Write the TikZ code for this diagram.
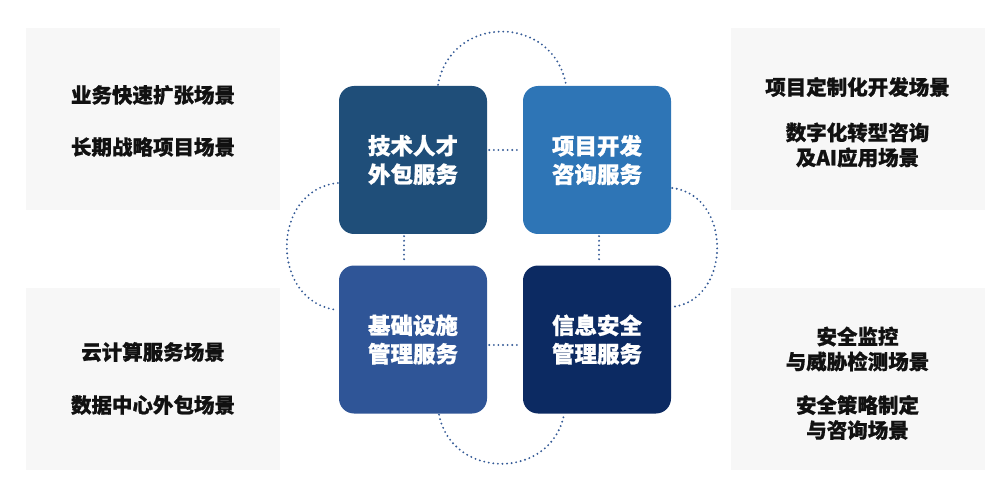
\documentclass[tikz,border=0pt]{standalone}
\usepackage{fontspec}
\setmainfont{Noto Sans CJK SC}[BoldFeatures={FakeBold=0.8}]
\usetikzlibrary{calc}
\definecolor{panelc}{HTML}{F7F7F7}
\definecolor{ctl}{HTML}{1F4E79}
\definecolor{ctr}{HTML}{2E75B6}
\definecolor{cbl}{HTML}{2F5597}
\definecolor{cbr}{HTML}{0C2A62}
\definecolor{dotc}{HTML}{345A96}
\definecolor{txtc}{HTML}{111111}
\begin{document}
\begin{tikzpicture}[x=1pt,y=-1pt,
  panel/.style={fill=panelc, draw=none, minimum width=254pt, minimum height=182pt, inner sep=0pt},
  ptext/.style={text=txtc, align=center, font=\bfseries\fontsize{20.5}{25}\selectfont, inner sep=0pt},
  sq/.style={draw=none, rounded corners=15pt, minimum width=148pt, minimum height=148pt, inner sep=0pt,
    text=white, align=center, font=\bfseries\fontsize{22.5}{28.5}\selectfont},
  dots/.style={draw=dotc, line width=2.1pt, dash pattern=on 0pt off 4.6pt, line cap=round}]
\useasboundingbox (0,0) rectangle (1005,500);
% side panels
\node[panel] (p1) at (153,119) {};
\node[panel] (p2) at (857.5,119) {};
\node[panel] (p3) at (153,378.5) {};
\node[panel] (p4) at (857.5,378.5) {};
% panel texts
\node[ptext] (t1a) at (153,95) {业务快速扩张场景};
\node[ptext] (t1b) at (153,147) {长期战略项目场景};
\node[ptext] (t2a) at (857.5,87) {项目定制化开发场景};
\node[ptext] (t2b) at (857.5,145) {数字化转型咨询\\及AI应用场景};
\node[ptext] (t3a) at (153,352) {云计算服务场景};
\node[ptext] (t3b) at (153,405) {数据中心外包场景};
\node[ptext] (t4a) at (857.5,349) {安全监控\\与威胁检测场景};
\node[ptext] (t4b) at (857.5,417.5) {安全策略制定\\与咨询场景};
% squares
\node[sq, fill=ctl] (tl) at (413,160) {技术人才\\外包服务};
\node[sq, fill=ctr] (tr) at (597,160) {项目开发\\咨询服务};
\node[sq, fill=cbl] (bl) at (413,339.5) {基础设施\\管理服务};
\node[sq, fill=cbr] (br) at (597,339.5) {信息安全\\管理服务};
% straight dotted links
\draw[dots] ($(tl.east)+(2,-10)$) -- ($(tr.west)+(-2,-10)$);
\draw[dots] ($(bl.east)+(2,5.5)$) -- ($(br.west)+(-2,5.5)$);
\draw[dots] ($(tl.south)+(-9,2)$) -- ($(bl.north)+(-9,-2)$);
\draw[dots] ($(tr.south)+(2,2)$) -- ($(br.north)+(2,-2)$);
% arcs
\draw[dots] ($(tl.north)+(25,-1)$) .. controls ($(tl.north)+(38,-72)$) and ($(tr.north)+(-44,-72)$) .. ($(tr.north)+(-31,-1)$);
\draw[dots] ($(tl.west)+(-1,23)$) .. controls ($(tl.west)+(-69,30)$) and ($(bl.west)+(-69,-36.5)$) .. ($(bl.west)+(-1,-29.5)$);
\draw[dots] ($(tr.east)+(1,28)$) .. controls ($(tr.east)+(61,35)$) and ($(br.east)+(61,-39.5)$) .. ($(br.east)+(1,-32.5)$);
\draw[dots] ($(bl.south)+(26,1)$) .. controls ($(bl.south)+(39,66.5)$) and ($(br.south)+(-46,66.5)$) .. ($(br.south)+(-33,1)$);
\end{tikzpicture}
\end{document}
